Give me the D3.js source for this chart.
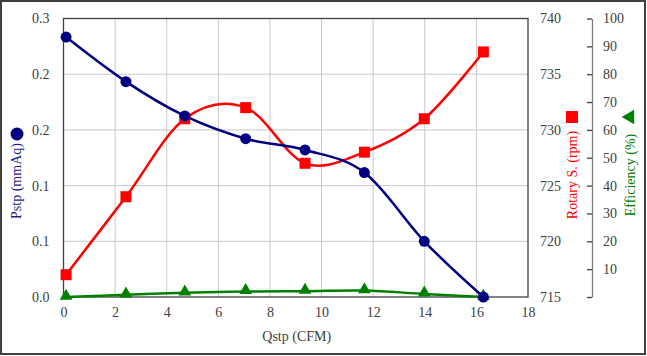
<!DOCTYPE html>
<html><head><meta charset="utf-8">
<script src="https://cdn.jsdelivr.net/npm/d3@7"></script>
<style>
html,body{margin:0;padding:0;background:#fff;}
svg{display:block;font-family:"Liberation Serif","Times New Roman",serif;}
</style></head>
<body>
<svg id="c" width="647" height="356"></svg>
<script>
const qstp = [0.1, 2.42, 4.7, 7.06, 9.36, 11.66, 13.98, 16.27];
const pstp = [0.280, 0.232, 0.195, 0.1705, 0.1584, 0.134, 0.060, 0.0];
const rotary = [717, 724, 731, 732, 727, 728, 731, 737];
const efficiency = [0, 0.8, 1.5, 2.0, 2.1, 2.3, 1.1, 0];
const xTicks = [0, 2, 4, 6, 8, 10, 12, 14, 16, 18];
const pTicks = [0, 0.06, 0.12, 0.18, 0.24, 0.30];
const rTicks = [715, 720, 725, 730, 735, 740];
const eTicks = [0, 10, 20, 30, 40, 50, 60, 70, 80, 90, 100];

const svg = d3.select("#c");
const L = 63.5, R = 528, T = 18.5, B = 297;
const x = d3.scaleLinear().domain([0, 18]).range([L, R]);
const yP = d3.scaleLinear().domain([0, 0.3]).range([B, T]);
const yR = d3.scaleLinear().domain([715, 740]).range([B, T]);
const yE = d3.scaleLinear().domain([0, 100]).range([B, T]);
const txt = "#404040";

// outer border
svg.append("rect").attr("x", 1).attr("y", 1).attr("width", 644).attr("height", 353)
  .attr("fill", "#fff").attr("stroke", "#404040").attr("stroke-width", 2);

// gridlines
svg.append("g").selectAll("line").data(xTicks.filter(d => d > 0 && d < 18)).join("line")
  .attr("x1", d => x(d)).attr("x2", d => x(d)).attr("y1", T).attr("y2", B)
  .attr("stroke", "#c8c8c8").attr("stroke-width", 1);
svg.append("g").selectAll("line").data(pTicks.slice(1, -1)).join("line")
  .attr("y1", d => yP(d)).attr("y2", d => yP(d)).attr("x1", L).attr("x2", R)
  .attr("stroke", "#c8c8c8").attr("stroke-width", 1);

// plot border
svg.append("rect").attr("x", L).attr("y", T).attr("width", R - L).attr("height", B - T)
  .attr("fill", "none").attr("stroke", "#404040").attr("stroke-width", 1.3);

// x axis labels
const xAxis = d3.axisBottom(x).tickValues(xTicks).tickSize(0).tickPadding(10).tickFormat(d3.format("d"));
const gx = svg.append("g").attr("transform", `translate(0,${B})`).call(xAxis);
gx.select(".domain").remove();
gx.selectAll("text").attr("font-size", 14).attr("fill", txt).attr("font-family", "Liberation Serif");

// left axis labels
const lAxis = d3.axisLeft(yP).tickValues(pTicks).tickSize(0).tickPadding(14).tickFormat(d3.format(".1f"));
const gl = svg.append("g").attr("transform", `translate(${L},0)`).call(lAxis);
gl.select(".domain").remove();
gl.selectAll("text").attr("font-size", 14).attr("fill", txt).attr("font-family", "Liberation Serif");

// right rotary labels
const rAxis = d3.axisRight(yR).tickValues(rTicks).tickSize(0).tickPadding(12).tickFormat(d3.format("d"));
const gr = svg.append("g").attr("transform", `translate(${R},0)`).call(rAxis);
gr.select(".domain").remove();
gr.selectAll("text").attr("font-size", 14).attr("fill", txt).attr("font-family", "Liberation Serif");

// efficiency axis
const EX = 592;
const eAxis = d3.axisRight(yE).tickValues(eTicks).tickSizeInner(-5).tickSizeOuter(0).tickPadding(11)
  .tickFormat(d => d === 0 ? "" : d3.format("d")(d));
const ge = svg.append("g").attr("transform", `translate(${EX},0)`).call(eAxis);
ge.select(".domain").attr("stroke", "#7f7f7f").attr("stroke-width", 1.3);
ge.selectAll(".tick line").attr("stroke", "#404040").attr("stroke-width", 1.3);
ge.selectAll("text").attr("font-size", 14).attr("fill", txt).attr("font-family", "Liberation Serif");

// lines (Excel-like smoothing)
const curve = d3.curveCardinal.tension(0);
function series(vals, y, color) {
  const line = d3.line().x((d, i) => x(qstp[i])).y(d => y(d)).curve(curve);
  svg.append("path").datum(vals).attr("d", line).attr("fill", "none")
    .attr("stroke", color).attr("stroke-width", 2.5);
}
series(efficiency, yE, "#008000");
series(rotary, yR, "#ff0000");
series(pstp, yP, "#000080");

// markers
svg.append("g").selectAll("path").data(efficiency).join("path")
  .attr("d", d3.symbol(d3.symbolTriangle, 70))
  .attr("transform", (d, i) => `translate(${x(qstp[i])},${yE(d) - 1})`).attr("fill", "#008000");
svg.append("g").selectAll("rect").data(rotary).join("rect")
  .attr("x", (d, i) => x(qstp[i]) - 5.5).attr("y", d => yR(d) - 5.5)
  .attr("width", 11).attr("height", 11).attr("fill", "#ff0000");
svg.append("g").selectAll("circle").data(pstp).join("circle")
  .attr("cx", (d, i) => x(qstp[i])).attr("cy", d => yP(d)).attr("r", 5.5).attr("fill", "#000080");

// titles
svg.append("text").attr("x", (L + R) / 2 + 1).attr("y", 341).attr("text-anchor", "middle")
  .attr("font-size", 14).attr("fill", txt).text("Qstp (CFM)");

function vtitle(xp, yp, label, color) {
  svg.append("text").attr("transform", `translate(${xp},${yp}) rotate(-90)`)
    .attr("text-anchor", "middle").attr("dy", "0.35em")
    .attr("font-size", 14).attr("fill", color).text(label);
}
vtitle(16, 181, "Pstp (mmAq)", "#1c1c8c");
svg.append("circle").attr("cx", 17).attr("cy", 134).attr("r", 6.5).attr("fill", "#000080");

vtitle(572, 175, "Rotary S. (rpm)", "#ff0000");
svg.append("rect").attr("x", 566).attr("y", 111).attr("width", 12).attr("height", 12).attr("fill", "#ff0000");

vtitle(630, 175, "Efficiency (%)", "#008000");
svg.append("path").attr("d", d3.symbol(d3.symbolTriangle, 90)).attr("transform", "translate(630,117) rotate(-90)")
  .attr("fill", "#008000");
</script>
</body></html>
